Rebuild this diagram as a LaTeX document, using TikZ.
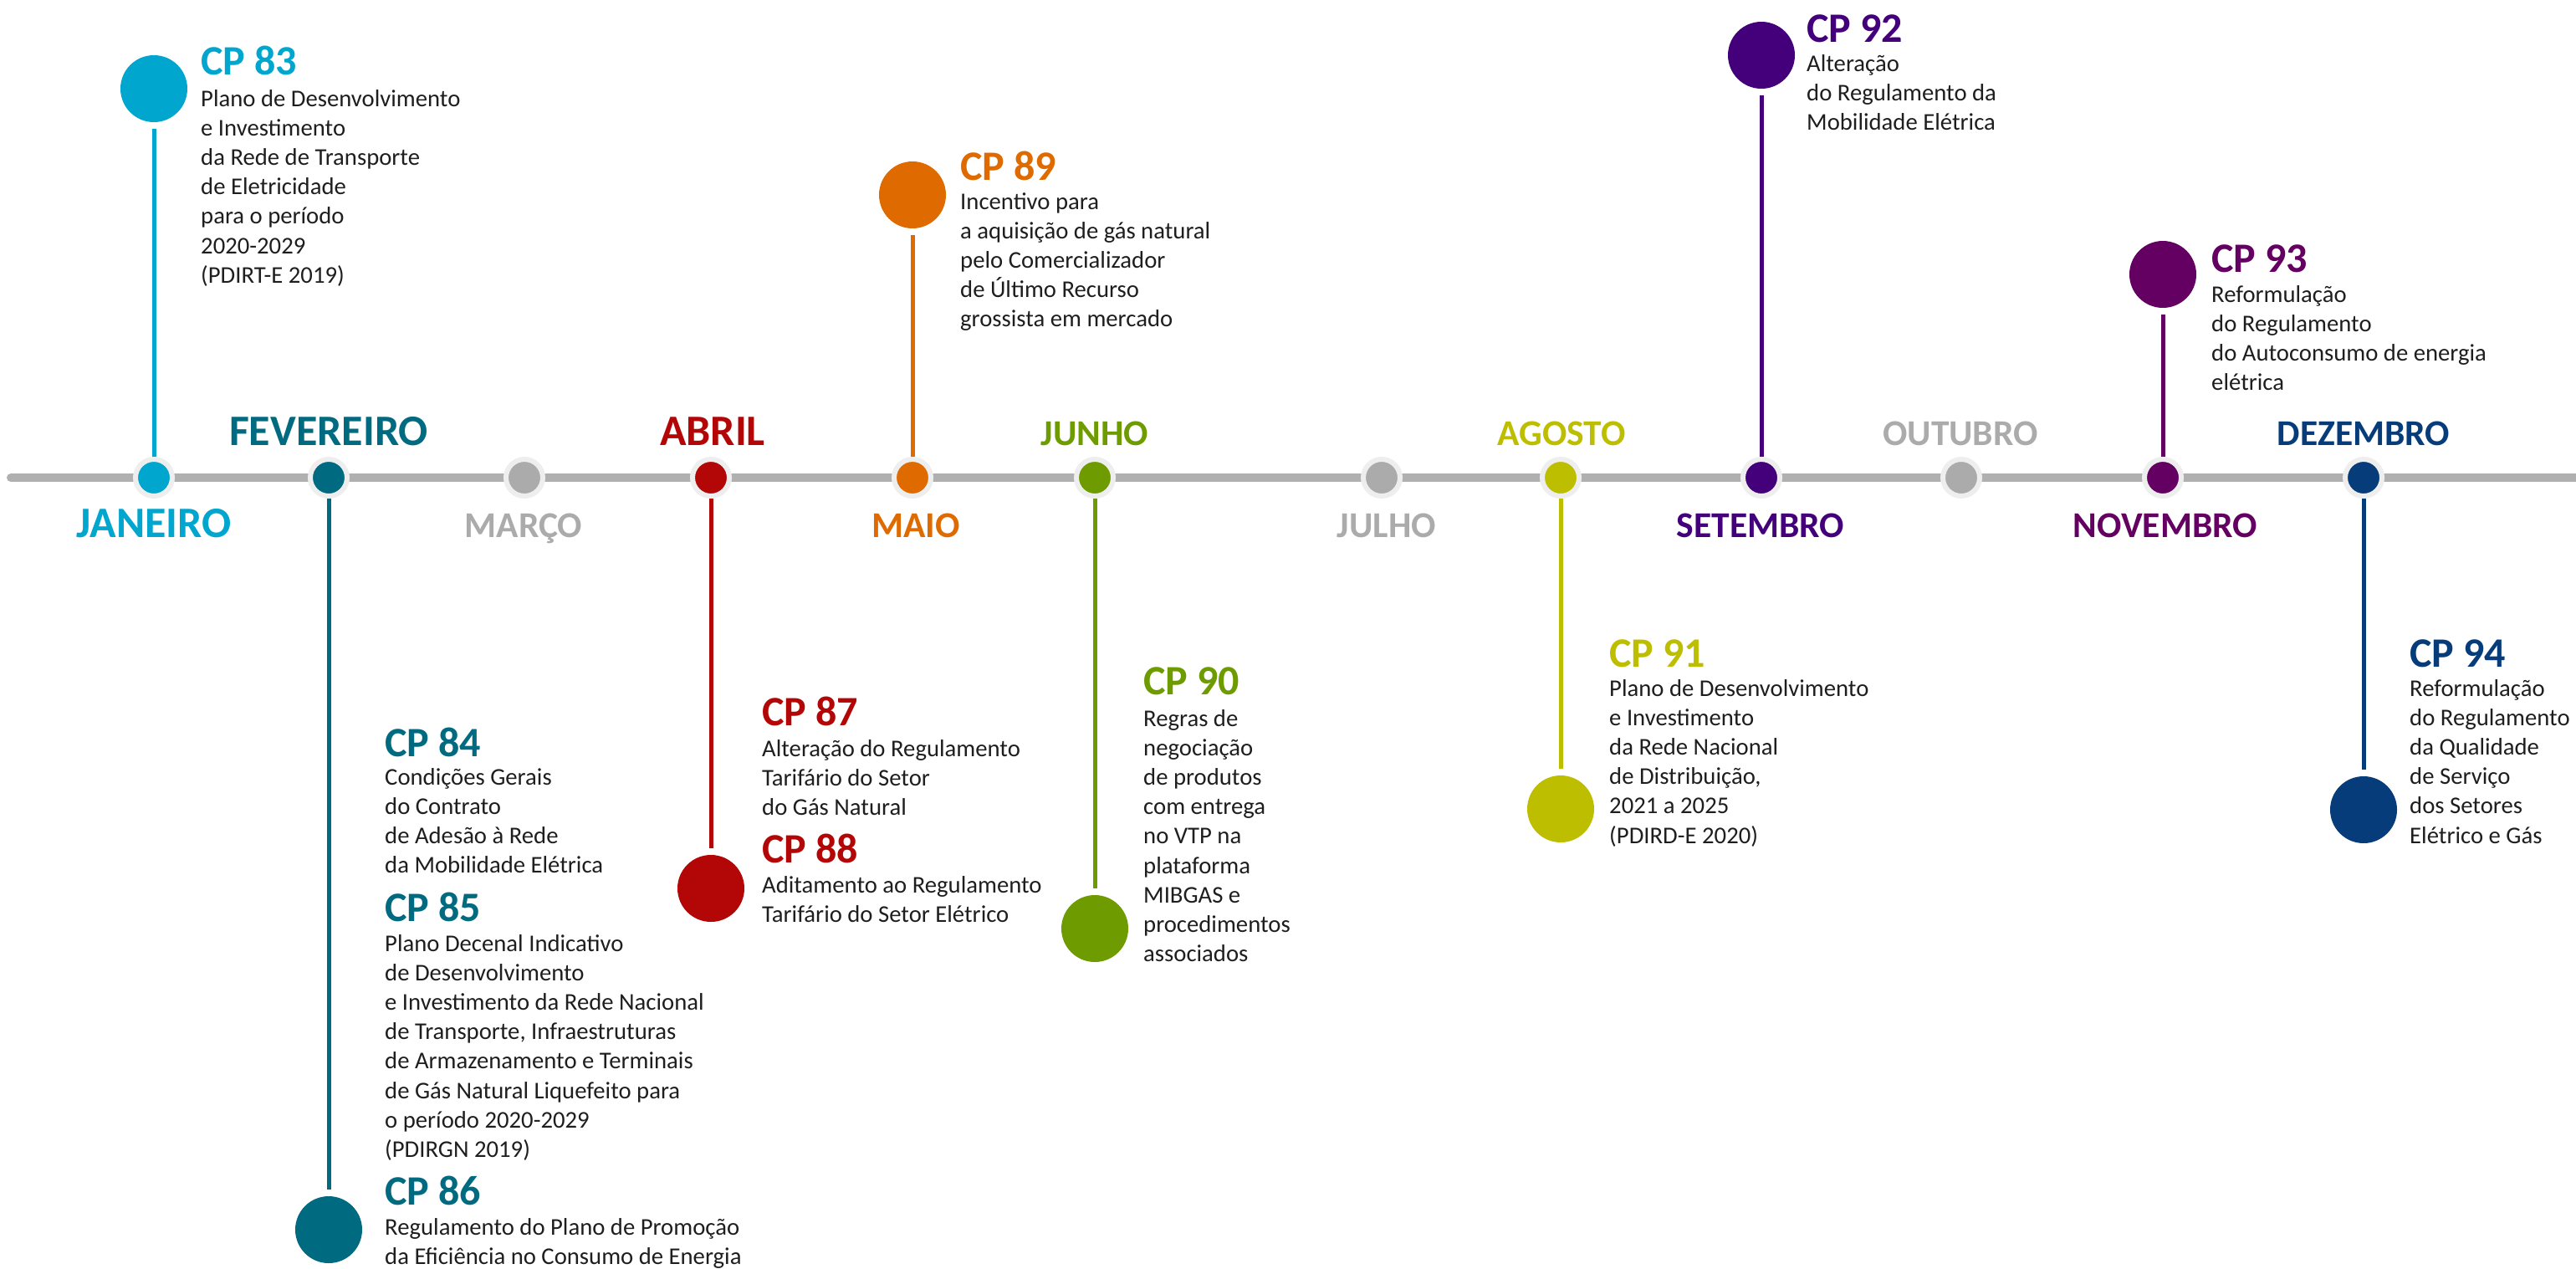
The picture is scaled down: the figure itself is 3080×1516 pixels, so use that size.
\documentclass[tikz,border=0pt]{standalone}
\usepackage{fontspec}
\setmainfont{Carlito}
\definecolor{cJan}{HTML}{00A6CE}
\definecolor{cFeb}{HTML}{006A80}
\definecolor{cApr}{HTML}{B30606}
\definecolor{cMay}{HTML}{DF6B00}
\definecolor{cJun}{HTML}{6E9B00}
\definecolor{cAug}{HTML}{BEBE00}
\definecolor{cSep}{HTML}{43007A}
\definecolor{cNov}{HTML}{640062}
\definecolor{cDec}{HTML}{073C7A}
\definecolor{cGray}{HTML}{ABABAB}
\definecolor{axisgray}{HTML}{B0B0B0}
\definecolor{ringgray}{HTML}{EEEEEE}
\definecolor{bodytext}{HTML}{1E1E1E}
\newcommand\bodybox[1]{\parbox[t]{600pt}{\raggedright\fontsize{28.7}{35.2}\selectfont #1}}
\begin{document}
\begin{tikzpicture}[x=1pt,y=-1pt,
  mdot/.style={circle, draw=ringgray, line width=6pt, minimum size=44pt, inner sep=0pt},
  bigdot/.style={circle, minimum size=80pt, inner sep=0pt, outer sep=0pt},
  stem/.style={line width=5pt, shorten >=8pt},
  month/.style={font=\fontsize{52}{60}\selectfont\bfseries, inner sep=0pt, anchor=base},
  monthsm/.style={font=\fontsize{43.5}{52}\selectfont\bfseries, inner sep=0pt, anchor=base},
  cptitle/.style={font=\fontsize{50}{60}\selectfont\bfseries, inner sep=0pt, anchor=base west},
  cpbody/.style={inner sep=0pt, anchor=base west, text=bodytext}]
\useasboundingbox (0,0) rectangle (3080,1516);
% axis
\coordinate (axL) at (13,571);
\coordinate (axR) at (3085,571);
\draw[axisgray, line width=10pt, line cap=round] (axL) -- (axR);
% month dots
\node[mdot, fill=cJan] (m1) at (184,571) {};
\node[mdot, fill=cFeb] (m2) at (393,571) {};
\node[mdot, fill=cGray] (m3) at (627,571) {};
\node[mdot, fill=cApr] (m4) at (850,571) {};
\node[mdot, fill=cMay] (m5) at (1091,571) {};
\node[mdot, fill=cJun] (m6) at (1309,571) {};
\node[mdot, fill=cGray] (m7) at (1652,571) {};
\node[mdot, fill=cAug] (m8) at (1866,571) {};
\node[mdot, fill=cSep] (m9) at (2106,571) {};
\node[mdot, fill=cGray] (m10) at (2345,571) {};
\node[mdot, fill=cNov] (m11) at (2586,571) {};
\node[mdot, fill=cDec] (m12) at (2826,571) {};
% month labels
\node[month, text=cJan] (l1) at (184,642) {JANEIRO};
\node[month, text=cFeb] (l2) at (393,532) {FEVEREIRO};
\node[monthsm, text=cGray] (l3) at (626,642) {MARÇO};
\node[month, text=cApr] (l4) at (852,532) {ABRIL};
\node[monthsm, text=cMay] (l5) at (1095,642) {MAIO};
\node[monthsm, text=cJun] (l6) at (1309,532) {JUNHO};
\node[monthsm, text=cGray] (l7) at (1658,642) {JULHO};
\node[monthsm, text=cAug] (l8) at (1867,532) {AGOSTO};
\node[monthsm, text=cSep] (l9) at (2105,642) {SETEMBRO};
\node[monthsm, text=cGray] (l10) at (2344,532) {OUTUBRO};
\node[monthsm, text=cNov] (l11) at (2589,642) {NOVEMBRO};
\node[monthsm, text=cDec] (l12) at (2826,532) {DEZEMBRO};
% big circles
\node[bigdot, fill=cJan] (b83) at (184,106) {};
\node[bigdot, fill=cFeb] (b86) at (393,1470) {};
\node[bigdot, fill=cApr] (b88) at (850,1062) {};
\node[bigdot, fill=cMay] (b89) at (1091,233) {};
\node[bigdot, fill=cJun] (b90) at (1309,1110) {};
\node[bigdot, fill=cAug] (b91) at (1866,967) {};
\node[bigdot, fill=cSep] (b92) at (2106,66) {};
\node[bigdot, fill=cNov] (b93) at (2586,328) {};
\node[bigdot, fill=cDec] (b94) at (2826,968) {};
% stems
\draw[stem, cJan] (m1) -- (b83);
\draw[stem, cFeb] (m2) -- (b86);
\draw[stem, cApr] (m4) -- (b88);
\draw[stem, cMay] (m5) -- (b89);
\draw[stem, cJun] (m6) -- (b90);
\draw[stem, cAug] (m8) -- (b91);
\draw[stem, cSep] (m9) -- (b92);
\draw[stem, cNov] (m11) -- (b93);
\draw[stem, cDec] (m12) -- (b94);
% CP 83
\node[cptitle, text=cJan] (t83) at (240,89) {CP 83};
\node[cpbody] (d83) at (240,127) {\bodybox{Plano de Desenvolvimento\\e Investimento\\da Rede de Transporte\\de Eletricidade\\para o período\\2020-2029\\(PDIRT-E 2019)}};
% CP 84
\node[cptitle, text=cFeb] (t84) at (460,904) {CP 84};
\node[cpbody] (d84) at (460,938) {\bodybox{Condições Gerais\\do Contrato\\de Adesão à Rede\\da Mobilidade Elétrica}};
% CP 85
\node[cptitle, text=cFeb] (t85) at (460,1101) {CP 85};
\node[cpbody] (d85) at (460,1137) {\bodybox{Plano Decenal Indicativo\\de Desenvolvimento\\e Investimento da Rede Nacional\\de Transporte, Infraestruturas\\de Armazenamento e Terminais\\de Gás Natural Liquefeito para\\o período 2020-2029\\(PDIRGN 2019)}};
% CP 86
\node[cptitle, text=cFeb] (t86) at (460,1440) {CP 86};
\node[cpbody] (d86) at (460,1476) {\bodybox{Regulamento do Plano de Promoção\\da Eficiência no Consumo de Energia}};
% CP 87
\node[cptitle, text=cApr] (t87) at (911,867) {CP 87};
\node[cpbody] (d87) at (911,904) {\bodybox{Alteração do Regulamento\\Tarifário do Setor\\do Gás Natural}};
% CP 88
\node[cptitle, text=cApr] (t88) at (911,1031) {CP 88};
\node[cpbody] (d88) at (911,1067) {\bodybox{Aditamento ao Regulamento\\Tarifário do Setor Elétrico}};
% CP 89
\node[cptitle, text=cMay] (t89) at (1148,215) {CP 89};
\node[cpbody] (d89) at (1148,250) {\bodybox{Incentivo para\\a aquisição de gás natural\\pelo Comercializador\\de Último Recurso\\grossista em mercado}};
% CP 90
\node[cptitle, text=cJun] (t90) at (1367,830) {CP 90};
\node[cpbody] (d90) at (1367,868) {\bodybox{Regras de\\negociação\\de produtos\\com entrega\\no VTP na\\plataforma\\MIBGAS e\\procedimentos\\associados}};
% CP 91
\node[cptitle, text=cAug] (t91) at (1924,797) {CP 91};
\node[cpbody] (d91) at (1924,832) {\bodybox{Plano de Desenvolvimento\\e Investimento\\da Rede Nacional\\de Distribuição,\\2021 a 2025\\(PDIRD-E 2020)}};
% CP 92
\node[cptitle, text=cSep] (t92) at (2160,50) {CP 92};
\node[cpbody] (d92) at (2160,85) {\bodybox{Alteração\\do Regulamento da\\Mobilidade Elétrica}};
% CP 93
\node[cptitle, text=cNov] (t93) at (2644,325) {CP 93};
\node[cpbody] (d93) at (2644,361) {\bodybox{Reformulação\\do Regulamento\\do Autoconsumo de energia\\elétrica}};
% CP 94
\node[cptitle, text=cDec] (t94) at (2881,797) {CP 94};
\node[cpbody] (d94) at (2881,832) {\bodybox{Reformulação\\do Regulamento\\da Qualidade\\de Serviço\\dos Setores\\Elétrico e Gás}};
\end{tikzpicture}
\end{document}
